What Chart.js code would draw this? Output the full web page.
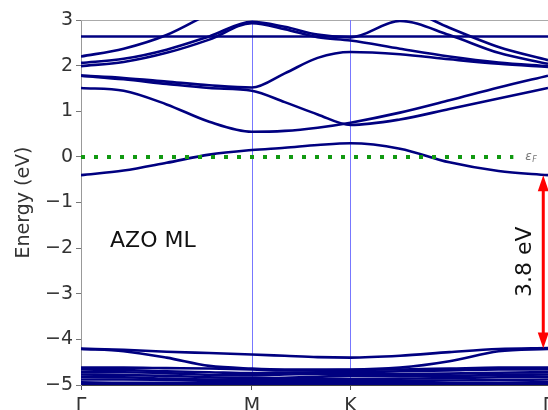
<!DOCTYPE html>
<html>
<head>
<meta charset="utf-8">
<script src="https://cdn.jsdelivr.net/npm/chart.js"></script>
<style>
  html, body { margin: 0; padding: 0; background: #fff; overflow: hidden; }
</style>
</head>
<body>
<canvas id="bands" width="548" height="410"></canvas>
<script>
// k-path Γ - M - K - Γ (segment lengths 1/√3, 1/3, 2/3)
const kPoints = [0, 0.144, 0.289, 0.433, 0.577, 0.688, 0.799, 0.910, 1.077, 1.244, 1.410, 1.577];
const kTicks = [0, 0.577, 0.910, 1.577];
const kLabels = ['Γ', 'M', 'K', 'Γ'];
const yMin = -5, yMax = 3;

// conduction bands (eV), one value per k point
const bandTop1 = [2.20, 2.37, 2.67, 3.14, 3.60, 3.60, 3.50, 3.40, 3.30, 2.83, 2.41, 2.12];
const bandTop2 = [2.06, 2.15, 2.35, 2.64, 2.96, 2.85, 2.68, 2.62, 2.98, 2.67, 2.28, 2.04];
const bandTop3 = [1.99, 2.08, 2.28, 2.57, 2.93, 2.80, 2.62, 2.55, 2.37, 2.20, 2.07, 1.99];
const bandFlat = [2.64, 2.64, 2.64, 2.64, 2.64, 2.64, 2.64, 2.64, 2.64, 2.64, 2.64, 2.64];
const bandMid1 = [1.78, 1.73, 1.65, 1.57, 1.52, 1.83, 2.17, 2.30, 2.25, 2.14, 2.04, 1.97];
const bandMid2 = [1.78, 1.70, 1.60, 1.51, 1.45, 1.20, 0.93, 0.70, 0.82, 1.05, 1.28, 1.51];
const bandMid3 = [1.51, 1.45, 1.15, 0.77, 0.55, 0.57, 0.64, 0.75, 0.97, 1.24, 1.52, 1.78];
const bandLow  = [-0.40, -0.30, -0.13, 0.05, 0.15, 0.20, 0.26, 0.30, 0.18, -0.12, -0.31, -0.40];

// valence bands (eV)
const vb1 = [-4.20, -4.23, -4.27, -4.30, -4.33, -4.36, -4.39, -4.40, -4.36, -4.28, -4.21, -4.19];
const vb2 = [-4.21, -4.26, -4.40, -4.58, -4.64, -4.66, -4.66, -4.66, -4.62, -4.48, -4.26, -4.21];
const vb3 = [-4.62, -4.62, -4.63, -4.64, -4.66, -4.68, -4.68, -4.67, -4.66, -4.64, -4.62, -4.62];
const vb4 = [-4.66, -4.67, -4.70, -4.72, -4.74, -4.73, -4.72, -4.72, -4.70, -4.68, -4.66, -4.66];
const vb5 = [-4.72, -4.72, -4.74, -4.78, -4.79, -4.77, -4.76, -4.76, -4.76, -4.75, -4.73, -4.72];
const vb6 = [-4.77, -4.78, -4.80, -4.83, -4.85, -4.84, -4.82, -4.80, -4.80, -4.80, -4.78, -4.77];
const vb7 = [-4.82, -4.83, -4.86, -4.88, -4.88, -4.87, -4.87, -4.87, -4.86, -4.85, -4.83, -4.82];
const vb8 = [-4.88, -4.88, -4.89, -4.91, -4.92, -4.92, -4.91, -4.91, -4.91, -4.90, -4.89, -4.88];
const vb9 = [-4.94, -4.95, -4.95, -4.96, -4.96, -4.95, -4.95, -4.96, -4.96, -4.96, -4.95, -4.94];
const vb10 = [-4.98, -4.99, -5.00, -5.00, -5.00, -4.99, -4.98, -4.98, -4.99, -5.00, -4.99, -4.98];

const bands = [bandTop1, bandTop2, bandTop3, bandFlat, bandMid1, bandMid2, bandMid3, bandLow,
               vb1, vb2, vb3, vb4, vb5, vb6, vb7, vb8, vb9, vb10];

// Fermi level and gap marker
const fermiLevel = 0;
const fermiEnd = 1.46;
const gapTop = -0.4, gapBottom = -4.2, gapK = 1.561;
const gapLabel = '3.8 eV';
const sampleLabel = 'AZO ML';

const FONT = '"DejaVu Sans", "Liberation Sans", sans-serif';
const VLINE = '#7777ff';

const bandSets = bands.map(b => ({
  data: kPoints.map((k, i) => ({ x: k, y: b[i] })),
  borderColor: '#000080',
  borderWidth: 2.6,
  pointRadius: 0,
  cubicInterpolationMode: 'monotone',
  fill: false,
  clip: 0
}));

const fermiSet = {
  data: [{ x: 0, y: fermiLevel }, { x: fermiEnd, y: fermiLevel }],
  borderColor: '#119911',
  borderWidth: 4,
  borderDash: [4, 9],
  pointRadius: 0,
  fill: false,
  clip: 0
};

// extra drawing: top spine, M/K lines, k labels, text, gap arrow
const overlay = {
  id: 'overlay',
  beforeDatasetsDraw(chart) {
    const { ctx, chartArea: a } = chart;
    const xs = chart.scales.x;
    ctx.save();
    ctx.strokeStyle = '#aaa';
    ctx.lineWidth = 1;
    ctx.beginPath();
    ctx.moveTo(a.left, a.top + 0.5);
    ctx.lineTo(a.right, a.top + 0.5);
    ctx.stroke();
    ctx.strokeStyle = VLINE;
    kTicks.slice(1, -1).forEach(k => {
      const px = Math.round(xs.getPixelForValue(k)) + 0.5;
      ctx.beginPath();
      ctx.moveTo(px, a.top);
      ctx.lineTo(px, a.bottom);
      ctx.stroke();
    });
    ctx.restore();
  },
  afterDraw(chart) {
    const { ctx, chartArea: a } = chart;
    const xs = chart.scales.x, ys = chart.scales.y;
    ctx.save();

    ctx.font = '19px ' + FONT;
    ctx.fillStyle = '#333';
    ctx.textAlign = 'center';
    ctx.textBaseline = 'alphabetic';
    kTicks.forEach((k, i) => ctx.fillText(kLabels[i], xs.getPixelForValue(k), a.bottom + 26));

    ctx.font = '22px ' + FONT;
    ctx.fillStyle = '#111';
    ctx.textAlign = 'left';
    ctx.fillText(sampleLabel, xs.getPixelForValue(0.098), ys.getPixelForValue(-1.97));

    // εF
    const fx = xs.getPixelForValue(fermiEnd) + 12, fy = ys.getPixelForValue(fermiLevel);
    ctx.fillStyle = '#777';
    ctx.font = 'italic 12px ' + FONT;
    ctx.fillText('ε', fx, fy + 3);
    ctx.font = 'italic 8px ' + FONT;
    ctx.fillText('F', fx + 7, fy + 5);

    // gap arrow
    const ax = xs.getPixelForValue(gapK);
    const yT = ys.getPixelForValue(gapTop), yB = ys.getPixelForValue(gapBottom);
    ctx.strokeStyle = '#ff0000';
    ctx.fillStyle = '#ff0000';
    ctx.lineWidth = 3;
    ctx.beginPath();
    ctx.moveTo(ax, yT + 12);
    ctx.lineTo(ax, yB - 12);
    ctx.stroke();
    ctx.beginPath();
    ctx.moveTo(ax, yT);
    ctx.lineTo(ax - 5.5, yT + 16);
    ctx.lineTo(ax + 5.5, yT + 16);
    ctx.closePath();
    ctx.fill();
    ctx.beginPath();
    ctx.moveTo(ax, yB);
    ctx.lineTo(ax - 5.5, yB - 16);
    ctx.lineTo(ax + 5.5, yB - 16);
    ctx.closePath();
    ctx.fill();

    ctx.translate(ax - 18, (yT + yB) / 2);
    ctx.rotate(-Math.PI / 2);
    ctx.font = '22px ' + FONT;
    ctx.fillStyle = '#111';
    ctx.textAlign = 'center';
    ctx.textBaseline = 'middle';
    ctx.fillText(gapLabel, 0, 0);
    ctx.restore();
  }
};

new Chart(document.getElementById('bands'), {
  type: 'line',
  data: { datasets: [fermiSet, ...bandSets] },
  options: {
    responsive: false,
    animation: false,
    devicePixelRatio: 1,
    layout: { padding: { top: 20, right: 0, bottom: 0, left: 0 } },
    plugins: { legend: { display: false }, tooltip: { enabled: false } },
    scales: {
      x: {
        type: 'linear',
        min: 0,
        max: kTicks[kTicks.length - 1],
        afterBuildTicks: s => { s.ticks = kTicks.map(v => ({ value: v })); },
        afterFit: s => { s.height = 25; },
        ticks: { display: false },
        grid: {
          drawOnChartArea: false,
          tickColor: '#555',
          tickLength: 5,
          lineWidth: 1
        },
        border: { color: '#444', width: 1 }
      },
      y: {
        min: yMin,
        max: yMax,
        afterFit: s => { s.width = 81; },
        ticks: {
          stepSize: 1,
          padding: 3,
          color: '#333',
          font: { family: FONT, size: 19 },
          callback: v => v < 0 ? '\u2212' + (-v) : String(v)
        },
        grid: { drawOnChartArea: false, tickLength: 5, color: '#777' },
        border: { color: '#999', width: 1 },
        title: {
          display: true,
          text: 'Energy (eV)',
          color: '#333',
          font: { family: FONT, size: 19 },
          padding: { top: 13, bottom: 0 }
        }
      }
    }
  },
  plugins: [overlay]
});
</script>
</body>
</html>
